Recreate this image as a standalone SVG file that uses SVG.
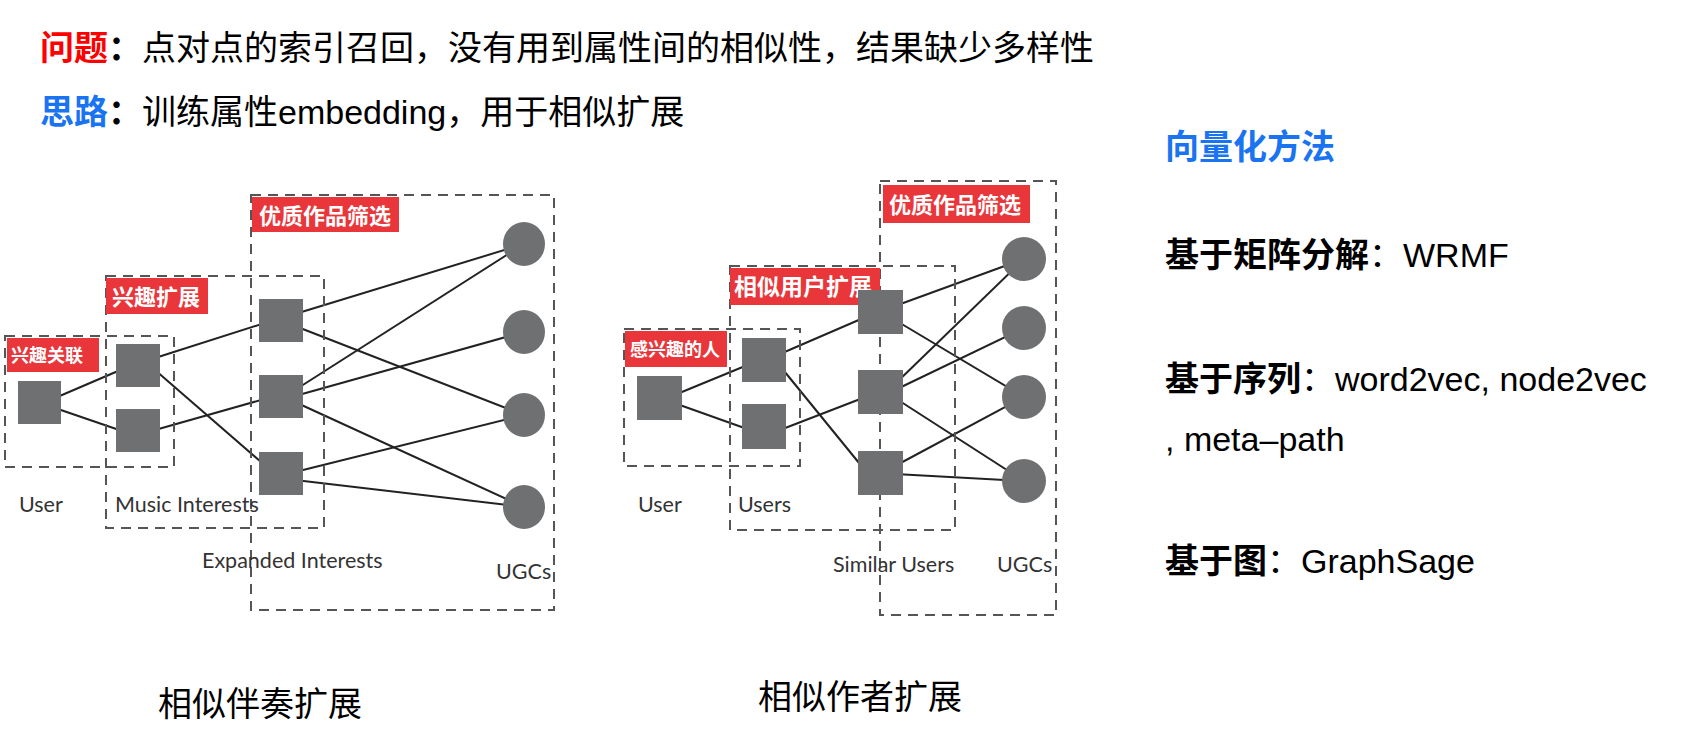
<svg xmlns="http://www.w3.org/2000/svg" width="1691" height="753" viewBox="0 0 1691 753">
<style>
.t{font-family:"Noto Sans CJK SC","Noto Sans",sans-serif;fill:#000}
.lat{font-family:"Liberation Sans","Noto Sans CJK SC",sans-serif}
.lbl{font-family:Lato,"Noto Sans",sans-serif;font-size:21.5px;fill:#333}
.tag{fill:#e8363b}
.tagt{font-family:"Noto Sans CJK SC",sans-serif;font-weight:bold;fill:#fff}
.box{fill:none;stroke:#555;stroke-width:2;stroke-dasharray:10 7}
.sq{fill:#6e7072}
.c{fill:#6e7072}
.ln{stroke:#222;stroke-width:2;fill:none}
</style>
<rect width="1691" height="753" fill="#fff"/>
<g id="header">
<text class="t" x="40" y="60" font-size="34"><tspan fill="#ff0000" font-weight="bold">问题</tspan><tspan font-weight="bold">：</tspan>点对点的索引召回，没有用到属性间的相似性，结果缺少多样性</text>
<text class="t" x="40" y="124" font-size="34"><tspan fill="#1a73f0" font-weight="bold">思路</tspan><tspan font-weight="bold">：</tspan>训练属性<tspan class="lat">embedding</tspan>，用于相似扩展</text>
</g>
<g id="methods">
<text class="t" x="1165" y="159" font-size="34" font-weight="bold" style="fill:#1a73f0">向量化方法</text>
<text class="t" x="1165" y="267" font-size="34"><tspan font-weight="bold">基于矩阵分解</tspan>：<tspan class="lat">WRMF</tspan></text>
<text class="t" x="1165" y="391" font-size="34"><tspan font-weight="bold">基于序列</tspan>：<tspan class="lat">word2vec, node2vec</tspan></text>
<text class="t lat" x="1165" y="451" font-size="34">, meta–path</text>
<text class="t" x="1165" y="573" font-size="34"><tspan font-weight="bold">基于图</tspan>：<tspan class="lat">GraphSage</tspan></text>
</g>
<g id="connectors">
<line class="ln" x1="55" y1="398" x2="125" y2="368"/>
<line class="ln" x1="55" y1="408" x2="125" y2="432"/>
<line class="ln" x1="155" y1="358" x2="268" y2="322"/>
<line class="ln" x1="155" y1="370" x2="268" y2="468"/>
<line class="ln" x1="155" y1="430" x2="268" y2="398"/>
<line class="ln" x1="295" y1="314" x2="524" y2="244"/>
<line class="ln" x1="295" y1="326" x2="524" y2="415"/>
<line class="ln" x1="295" y1="390" x2="524" y2="244"/>
<line class="ln" x1="295" y1="396" x2="524" y2="332"/>
<line class="ln" x1="295" y1="402" x2="524" y2="507"/>
<line class="ln" x1="295" y1="472" x2="524" y2="415"/>
<line class="ln" x1="295" y1="480" x2="524" y2="507"/>
<line class="ln" x1="677" y1="394" x2="750" y2="364"/>
<line class="ln" x1="677" y1="404" x2="750" y2="430"/>
<line class="ln" x1="780" y1="354" x2="868" y2="316"/>
<line class="ln" x1="780" y1="366" x2="868" y2="474"/>
<line class="ln" x1="780" y1="430" x2="868" y2="396"/>
<line class="ln" x1="895" y1="306" x2="1024" y2="259"/>
<line class="ln" x1="895" y1="320" x2="1024" y2="397"/>
<line class="ln" x1="895" y1="384" x2="1024" y2="259"/>
<line class="ln" x1="895" y1="390" x2="1024" y2="328"/>
<line class="ln" x1="895" y1="398" x2="1024" y2="481"/>
<line class="ln" x1="895" y1="466" x2="1024" y2="397"/>
<line class="ln" x1="895" y1="474" x2="1024" y2="481"/>
</g>
<g id="left-diagram">
<g id="grp-quality-left"><rect class="box" x="251" y="195" width="303" height="415"/><rect class="tag" x="252" y="197" width="147" height="35"/><text class="tagt" x="259" y="224" font-size="22">优质作品筛选</text></g>
<g id="grp-expand-left"><rect class="box" x="106" y="276" width="218" height="252"/><rect class="tag" x="106" y="278" width="102" height="36"/><text class="tagt" x="112" y="305" font-size="22">兴趣扩展</text></g>
<g id="grp-assoc-left"><rect class="box" x="5" y="336" width="169" height="131"/><rect class="tag" x="7" y="338" width="92" height="34"/><text class="tagt" x="11" y="362" font-size="18">兴趣关联</text></g>
<g id="n-user-l"><rect class="sq" x="18" y="381" width="43" height="43"/></g>
<g id="n-mi1"><rect class="sq" x="116" y="344" width="44" height="43"/></g>
<g id="n-mi2"><rect class="sq" x="116" y="409" width="44" height="43"/></g>
<g id="n-ei1"><rect class="sq" x="259" y="299" width="44" height="43"/></g>
<g id="n-ei2"><rect class="sq" x="259" y="375" width="44" height="43"/></g>
<g id="n-ei3"><rect class="sq" x="259" y="452" width="44" height="43"/></g>
<g id="n-ugc1-l"><ellipse class="c" cx="524" cy="244" rx="21" ry="22"/></g>
<g id="n-ugc2-l"><ellipse class="c" cx="524" cy="332" rx="21" ry="22"/></g>
<g id="n-ugc3-l"><ellipse class="c" cx="524" cy="415" rx="21" ry="22"/></g>
<g id="n-ugc4-l"><ellipse class="c" cx="524" cy="507" rx="21" ry="22"/></g>
<text class="lbl" x="19" y="512">User</text>
<text class="lbl" x="115" y="512">Music Interests</text>
<text class="lbl" x="202" y="568">Expanded Interests</text>
<text class="lbl" x="496" y="579">UGCs</text>
<text class="t" x="158" y="716" font-size="34">相似伴奏扩展</text>
</g>
<g id="right-diagram">
<g id="grp-quality-right"><rect class="box" x="880" y="181" width="176" height="434"/><rect class="tag" x="883" y="185" width="147" height="38"/><text class="tagt" x="889" y="213" font-size="22">优质作品筛选</text></g>
<g id="grp-simuser"><rect class="box" x="730" y="266" width="225" height="264"/><rect class="tag" x="730" y="268" width="150" height="37"/><text class="tagt" x="734" y="295" font-size="23">相似用户扩展</text></g>
<g id="grp-interested"><rect class="box" x="624" y="329" width="176" height="137"/><rect class="tag" x="625" y="331" width="102" height="36"/><text class="tagt" x="630" y="356" font-size="18">感兴趣的人</text></g>
<g id="n-user-r"><rect class="sq" x="637" y="376" width="45" height="44"/></g>
<g id="n-u1"><rect class="sq" x="742" y="338" width="44" height="44"/></g>
<g id="n-u2"><rect class="sq" x="742" y="404" width="44" height="45"/></g>
<g id="n-s1"><rect class="sq" x="858" y="290" width="45" height="44"/></g>
<g id="n-s2"><rect class="sq" x="858" y="370" width="45" height="44"/></g>
<g id="n-s3"><rect class="sq" x="858" y="451" width="45" height="44"/></g>
<g id="n-ugc1-r"><ellipse class="c" cx="1024" cy="259" rx="22" ry="22"/></g>
<g id="n-ugc2-r"><ellipse class="c" cx="1024" cy="328" rx="22" ry="22"/></g>
<g id="n-ugc3-r"><ellipse class="c" cx="1024" cy="397" rx="22" ry="22"/></g>
<g id="n-ugc4-r"><ellipse class="c" cx="1024" cy="481" rx="22" ry="22"/></g>
<text class="lbl" x="638" y="512">User</text>
<text class="lbl" x="738" y="512">Users</text>
<text class="lbl" x="833" y="572">Similar Users</text>
<text class="lbl" x="997" y="572">UGCs</text>
<text class="t" x="758" y="709" font-size="34">相似作者扩展</text>
</g>
</svg>
